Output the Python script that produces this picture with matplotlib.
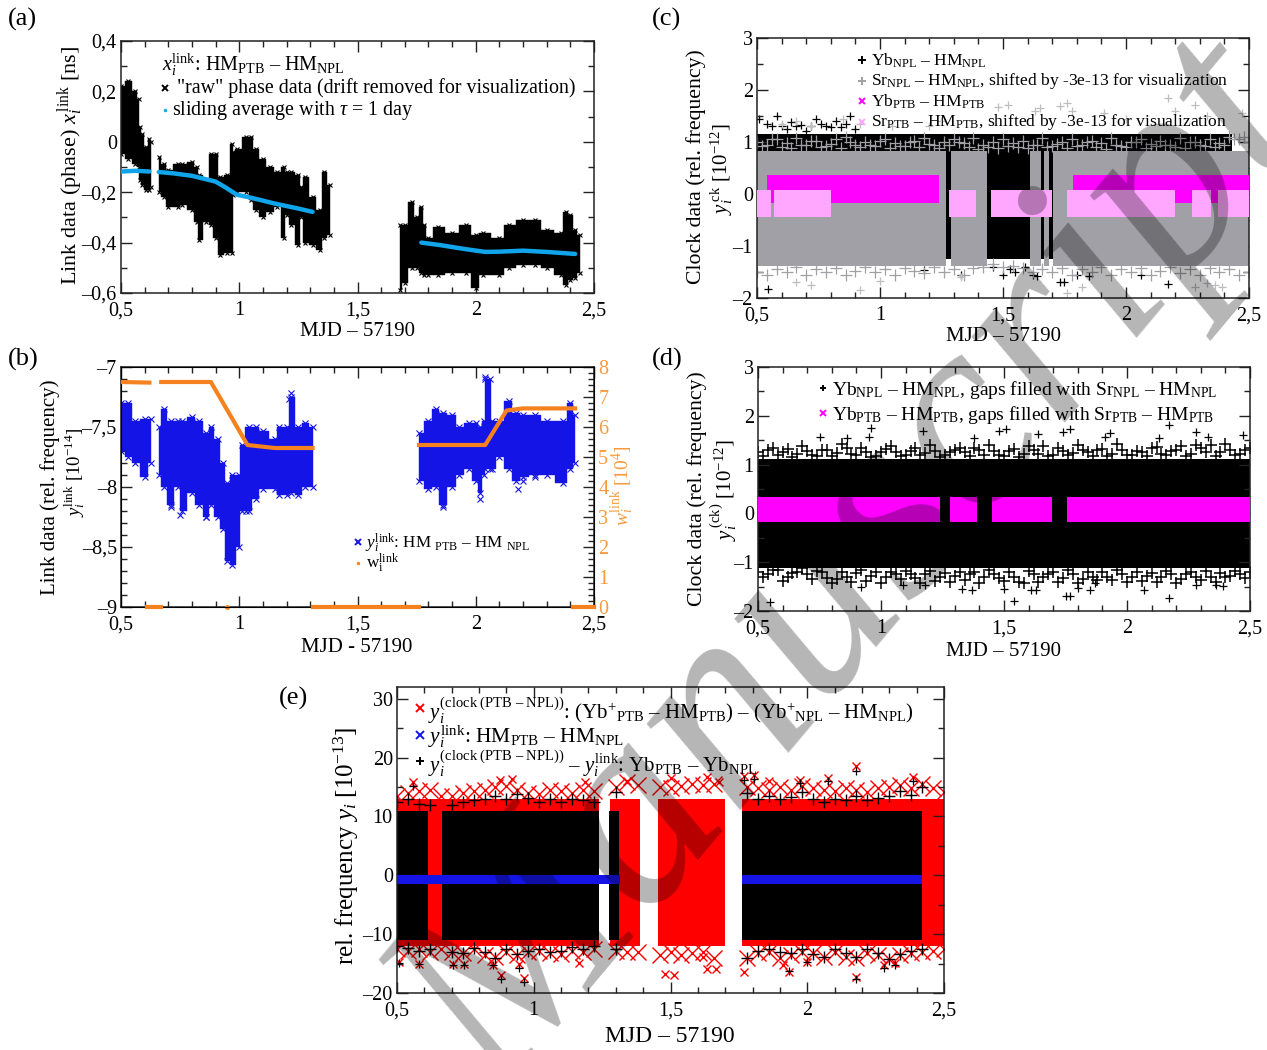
import matplotlib
matplotlib.use("Agg")
import matplotlib.pyplot as plt
import numpy as np
from matplotlib.ticker import MultipleLocator

plt.rcParams.update({"font.family": "Liberation Serif", "mathtext.fontset": "custom",
                     "mathtext.rm": "Liberation Serif", "mathtext.it": "Liberation Serif:italic",
                     "mathtext.bf": "Liberation Serif:bold", "mathtext.fallback": "stix"})
W, H = 1267, 1050
XT = [0.5, 1, 1.5, 2, 2.5]
XL = ["0,5", "1", "1,5", "2", "2,5"]

# ---------- (a) link phase: envelope of the raw data cloud
a1_x = [0.5,0.53,0.56,0.575,0.58,0.59,0.605,0.62,0.625]
a1_lo = [-0.05,-0.07,-0.09,-0.10,-0.15,-0.17,-0.19,-0.19,-0.18]
a1_hi = [0.22,0.24,0.20,0.17,0.06,0.03,-0.02,0.01,0.0]
a2_x = [0.66,0.68,0.70,0.74,0.76,0.80,0.82,0.83,0.86,0.88,0.90,0.92,0.95,0.97,0.975,0.99,1.03,1.05,1.07,1.1,1.13,1.16,1.19,1.2,1.22,1.25,1.26,1.28,1.31,1.34,1.36,1.385]
a2_lo = [-0.2,-0.22,-0.26,-0.26,-0.25,-0.27,-0.32,-0.39,-0.32,-0.33,-0.38,-0.45,-0.44,-0.44,-0.21,-0.2,-0.2,-0.23,-0.27,-0.30,-0.28,-0.26,-0.38,-0.29,-0.33,-0.41,-0.3,-0.4,-0.41,-0.43,-0.38,-0.37]
a2_hi = [-0.06,-0.09,-0.11,-0.09,-0.09,-0.08,-0.1,-0.13,-0.15,-0.05,-0.05,-0.14,-0.13,-0.01,-0.04,-0.03,0.02,0.02,-0.03,-0.07,-0.1,-0.12,-0.1,-0.12,-0.12,-0.13,-0.18,-0.14,-0.22,-0.27,-0.12,-0.17]
a3_x = [1.68,1.70,1.73,1.75,1.77,1.78,1.80,1.84,1.90,1.96,2.0,2.03,2.1,2.14,2.2,2.25,2.3,2.36,2.38,2.4,2.42,2.44]
a3_lo = [-0.59,-0.56,-0.5,-0.5,-0.52,-0.53,-0.53,-0.53,-0.52,-0.52,-0.58,-0.53,-0.53,-0.5,-0.49,-0.49,-0.5,-0.53,-0.57,-0.55,-0.54,-0.52]
a3_hi = [-0.33,-0.33,-0.24,-0.30,-0.26,-0.33,-0.38,-0.34,-0.36,-0.33,-0.37,-0.36,-0.38,-0.33,-0.31,-0.31,-0.35,-0.36,-0.28,-0.29,-0.35,-0.37]
a_avg1_x = [0.5,0.56,0.62]
a_avg1_y = [-0.118,-0.115,-0.118]
a_avg2_x = [0.66,0.72,0.8,0.9,0.94,0.99,1.05,1.15,1.25,1.31]
a_avg2_y = [-0.12,-0.125,-0.135,-0.158,-0.18,-0.21,-0.222,-0.245,-0.265,-0.278]
a_avg3_x = [1.77,1.85,1.95,2.04,2.1,2.2,2.3,2.42]
a_avg3_y = [-0.40,-0.41,-0.425,-0.437,-0.436,-0.432,-0.437,-0.445]

# ---------- (b) link frequency
b1_x = [0.5,0.53,0.56,0.6,0.625]
b1_lo = [-7.7,-7.75,-7.8,-7.92,-7.8]
b1_hi = [-7.3,-7.3,-7.45,-7.43,-7.43]
b2_x = [0.66,0.68,0.71,0.74,0.76,0.8,0.83,0.86,0.88,0.91,0.93,0.95,0.97,1.0,1.01,1.04,1.07,1.1,1.15,1.17,1.2,1.22,1.25,1.28,1.31]
b2_lo = [-7.9,-8.0,-8.15,-8.0,-8.2,-8.05,-8.15,-8.25,-8.15,-8.25,-8.35,-8.62,-8.65,-8.5,-8.2,-8.2,-8.1,-8.02,-8.02,-8.07,-8.07,-8.05,-8.07,-8.0,-8.0]
b2_hi = [-7.5,-7.35,-7.45,-7.45,-7.45,-7.42,-7.45,-7.55,-7.5,-7.6,-7.8,-7.97,-7.9,-7.9,-7.65,-7.5,-7.5,-7.53,-7.6,-7.5,-7.5,-7.25,-7.5,-7.47,-7.5]
b3_x = [1.76,1.8,1.83,1.86,1.9,1.93,1.97,2.0,2.02,2.035,2.04,2.06,2.07,2.1,2.14,2.17,2.2,2.25,2.3,2.37,2.4,2.42]
b3_lo = [-7.95,-8.02,-8.0,-8.15,-8.0,-7.9,-7.85,-7.95,-8.05,-7.9,-7.85,-7.85,-7.85,-7.75,-7.85,-7.95,-7.92,-7.9,-7.9,-7.97,-7.85,-7.8]
b3_hi = [-7.55,-7.45,-7.35,-7.38,-7.4,-7.5,-7.47,-7.47,-7.5,-7.45,-7.1,-7.1,-7.45,-7.45,-7.28,-7.38,-7.4,-7.4,-7.45,-7.45,-7.3,-7.4]
b_out_x = [1.21,1.22,2.04,2.18,2.02,1.86,2.25,2.2,0.75,0.71,0.86,1.03]
b_out_y = [-7.27,-7.22,-7.08,-8.02,-8.1,-8.17,-7.92,-7.95,-8.23,-8.17,-8.25,-8.2]
w1_x = [0.5,0.62]; w1_y = [7.5,7.48]
w2_x = [0.67,0.88,1.035,1.15,1.31]; w2_y = [7.5,7.5,5.4,5.3,5.3]
w3_x = [1.76,2.04,2.13,2.2,2.42]; w3_y = [5.4,5.4,6.55,6.62,6.62]
w_zero_segments = [(0.61,0.67),(1.31,1.76),(2.41,2.5)]
w_zero_point = [0.95]

# ---------- edge read-offs for dense clouds (c, d, e)
EDGE_X = [0.50,0.54,0.58,0.62,0.66,0.70,0.74,0.78,0.82,0.86,0.90,0.94,0.98,1.02,1.06,1.10,1.14,1.18,1.22,1.26,1.30,1.34,1.38,1.42,1.46,1.50,1.54,1.58,1.62,1.66,1.70,1.74,1.78,1.82,1.86,1.90,1.94,1.98,2.02,2.06,2.10,2.14,2.18,2.22,2.26,2.30,2.34,2.38,2.42,2.46,2.50]
EDGE_X2 = [0.52,0.56,0.60,0.64,0.68,0.72,0.76,0.80,0.84,0.88,0.92,0.96,1.00,1.04,1.08,1.12,1.16,1.20,1.24,1.28,1.32,1.36,1.40,1.44,1.48,1.52,1.56,1.60,1.64,1.68,1.72,1.76,1.80,1.84,1.88,1.92,1.96,2.00,2.04,2.08,2.12,2.16,2.20,2.24,2.28,2.32,2.36,2.40,2.44,2.48]
c_gray_hi = [1.0,0.95,1.05,0.98,1.08,0.95,1.02,0.93,1.05,1.1,0.95,1.0,0.92,1.05,0.98,0.93,1.02,1.08,0.95,1.0,1.05,0.98,1.08,0.95,1.0,1.06,0.98,1.02,0.95,1.08,0.93,1.0,1.05,0.95,1.02,0.98,1.08,0.93,1.0,1.05,0.96,1.02,0.95,1.08,1.0,0.95,1.05,0.98,1.1,1.05,1.0]
c_gray_hi2 = [0.92,1.05,0.9,0.88,0.95,1.02,0.9,0.96,0.88,1.0,0.9,0.95,1.02,0.88,0.92,1.0,0.9,0.96,0.88,0.95,1.0,0.9,0.86,0.9,0.88,0.92,0.9,0.88,0.95,0.9,0.96,0.88,0.92,1.0,0.9,0.86,0.95,0.9,1.0,0.88,0.92,0.95,0.9,0.88,1.0,0.92,0.9,0.95,1.05,1.1]
c_gray_lo = [-1.5,-1.55,-1.45,-1.5,-1.4,-1.55,-1.45,-1.5,-1.42,-1.55,-1.48,-1.4,-1.5,-1.45,-1.55,-1.42,-1.48,-1.52,-1.4,-1.5,-1.45,-1.55,-1.42,-1.4,-1.35,-1.4,-1.38,-1.42,-1.5,-1.45,-1.5,-1.42,-1.55,-1.45,-1.5,-1.4,-1.55,-1.45,-1.5,-1.42,-1.55,-1.48,-1.4,-1.52,-1.45,-1.55,-1.42,-1.5,-1.45,-1.55,-1.5]
d_hi = [1.25,1.3,1.2,1.32,1.22,1.28,1.18,1.3,1.24,1.34,1.2,1.26,1.18,1.32,1.25,1.2,1.34,1.24,1.28,1.2,1.3,1.25,1.33,1.2,1.27,1.18,1.32,1.22,1.3,1.38,1.2,1.28,1.24,1.3,1.18,1.32,1.22,1.3,1.2,1.26,1.33,1.22,1.28,1.38,1.22,1.34,1.4,1.25,1.3,1.22,1.35]
d_hi2 = [1.18,1.35,1.25,1.15,1.38,1.2,1.3,1.17,1.42,1.22,1.35,1.15,1.25,1.38,1.18,1.28,1.2,1.4,1.16,1.25,1.35,1.18,1.3,1.4,1.2,1.28,1.16,1.38,1.22,1.17,1.35,1.2,1.4,1.25,1.3,1.18,1.42,1.2,1.27,1.18,1.36,1.2,1.3,1.18,1.4,1.26,1.17,1.42,1.2,1.3]
d_lo = [-1.2,-1.25,-1.15,-1.3,-1.2,-1.25,-1.18,-1.32,-1.35,-1.3,-1.22,-1.38,-1.2,-1.3,-1.25,-1.18,-1.32,-1.25,-1.38,-1.22,-1.28,-1.36,-1.2,-1.3,-1.25,-1.38,-1.3,-1.42,-1.25,-1.3,-1.2,-1.32,-1.24,-1.35,-1.3,-1.2,-1.36,-1.25,-1.3,-1.38,-1.22,-1.3,-1.25,-1.34,-1.2,-1.36,-1.3,-1.22,-1.28,-1.25,-1.2]
d_lo2 = [-1.3,-1.15,-1.38,-1.22,-1.12,-1.34,-1.2,-1.42,-1.2,-1.4,-1.15,-1.28,-1.42,-1.2,-1.35,-1.24,-1.42,-1.18,-1.3,-1.4,-1.2,-1.25,-1.42,-1.16,-1.32,-1.2,-1.4,-1.18,-1.4,-1.25,-1.4,-1.16,-1.42,-1.2,-1.36,-1.3,-1.16,-1.4,-1.2,-1.28,-1.4,-1.18,-1.42,-1.24,-1.3,-1.18,-1.4,-1.3,-1.18,-1.32]
e_red_hi = [13.5,14,14.3,14.5,13.5,13.5,14,14.3,14.5,15,15.2,14.5,14,13.8,14.5,14.3,14,14.5,14.3,np.nan,15,15.8,15.3,np.nan,15,14.8,15.2,15.5,15.3,15.6,np.nan,np.nan,15,14.8,14.5,15,14.5,15.2,14.8,14.5,14.3,14.8,14.5,14.2,14.8,15,15.3,14.8,15.5,14.8,14.2]
e_red_lo = [-12.5,-12.8,-12.5,-13,-12.5,-13,-13.2,-12.5,-13.5,-13.8,-13,-13.5,-13,-12.8,-13.2,-13.4,-12.8,-13,-12.6,np.nan,-12.8,-13,-13,np.nan,-13.5,-13,-13.5,-13.2,-13,-14,np.nan,np.nan,-14,-13.2,-13,-14,-13.5,-13,-13.2,-13.8,-13,-13.8,-14,-13.2,-13.5,-14.3,-13.6,-13.2,-13,-12.8,-12.5]
e_blk_hi = [12.5,13,12.2,12,np.nan,12,12.5,12.8,13,13.5,13,13.8,13.2,12.5,13,12.5,13,12.8,12.5,np.nan,14.2,np.nan,np.nan,np.nan,np.nan,np.nan,np.nan,np.nan,np.nan,np.nan,np.nan,np.nan,14,13,13.5,13,13.3,14.2,13,12.5,13,12.8,13.5,12.8,13.2,13.5,14.3,13.6,15,np.nan,np.nan]
e_blk_lo = [-12,-12.3,-12.8,-12.5,np.nan,-13,-13.2,-12.3,-13,-14,-12.5,-13.3,-12.8,-12.5,-13,-12.8,-12.2,-12.6,-12,np.nan,-12.5,np.nan,np.nan,np.nan,np.nan,np.nan,np.nan,np.nan,np.nan,np.nan,np.nan,np.nan,-14,-12.8,-12.5,-13,-13.2,-12.5,-13.3,-13.8,-12.5,-13.2,-13.8,-12.6,-13.2,-14.2,-13.3,-12.8,-12.5,np.nan,np.nan]

# ---------- (c) scattered points
c_blk_out_x = [0.51,0.54,0.56,0.58,0.6,0.62,0.64,0.66,0.68,0.7,0.72,0.74,0.76,0.78,0.8,0.82,0.84,0.86,0.88,0.9,0.545,1.46,1.5,1.53,1.55,1.59,1.62,1.64,1.73,1.75,1.8,1.85,2.06,2.17,1.33,1.18]
c_blk_out_y = [1.45,1.35,1.3,1.5,1.3,1.25,1.38,1.3,1.32,1.22,1.3,1.45,1.35,1.3,1.28,1.4,1.28,1.35,1.5,1.25,-1.82,-1.4,-1.55,-1.45,-1.5,-1.4,-1.55,-1.57,-1.69,-1.69,-1.55,-1.57,-1.55,-1.73,-1.55,-1.46]
c_gry_out_x = [0.6,0.66,0.72,0.85,0.92,1.05,1.2,1.25,1.48,1.52,1.63,1.65,1.73,1.76,1.78,1.91,2.0,2.17,2.2,2.28,2.33,2.47,0.92,0.66,0.72,1.0,1.33,1.76,1.82,2.28,2.33,2.36,2.39]
c_gry_out_y = [1.35,1.4,1.3,1.45,1.35,1.3,1.3,1.4,1.68,1.72,1.6,1.65,1.7,1.75,1.6,1.55,1.45,1.85,1.6,1.72,1.5,1.55,-1.85,-1.7,-1.75,-1.68,-1.6,-1.9,-1.78,-1.78,-1.72,-1.75,-1.78]

# ---------- (d) scattered points
d_out_x = [0.75,0.86,0.95,0.96,1.17,1.38,1.48,1.51,1.64,1.74,1.77,1.93,1.91,2.13,2.17,2.28,2.33,2.47,0.55,0.92,1.09,1.18,1.33,1.37,1.5,1.54,1.61,1.63,1.75,1.77,1.8,1.85,1.87,2.07,2.17,2.28,2.36,2.39]
d_out_y = [1.56,1.54,1.57,1.74,1.69,1.54,1.69,1.73,1.63,1.66,1.73,1.64,1.56,1.54,1.81,1.66,1.57,1.6,-1.82,-1.5,-1.47,-1.46,-1.55,-1.57,-1.55,-1.8,-1.57,-1.57,-1.69,-1.69,-1.52,-1.57,-1.42,-1.57,-1.73,-1.46,-1.47,-1.49]

# ---------- (e) scattered points
e_out_x = [0.92,0.876,0.557,1.186,1.34,1.5,1.635,1.676,1.77,1.807,1.86,1.975,2.077,2.18,2.387,0.508,0.58,0.704,0.745,0.85,0.88,0.946,0.966,1.165,1.48,1.513,1.62,1.635,1.665,1.77,1.913,1.933,2.0,2.18,2.28,2.32]
e_out_y = [16.4,16.2,15.9,15.9,16,16.6,16.7,15.9,16.8,17,16,16.2,16.6,18.5,16.7,-14.7,-15,-15,-15,-15.3,-17,-15,-17.5,-14.9,-16.8,-17,-13.9,-15.9,-15.9,-16.4,-15.3,-16.4,-14.7,-17.2,-15.3,-14.9]
e_blk_out_x = [0.508,0.58,0.704,0.745,0.85,0.88,0.946,0.966,1.933,2.0,2.18,2.28,2.32,0.557,1.77,1.807,2.18,2.387,1.975,2.077]
e_blk_out_y = [-14.9,-15.1,-15.3,-15.3,-15.2,-17.7,-15.7,-18.2,-16.3,-14.7,-17.7,-15.8,-15.2,15.2,16.2,16.4,17.8,16.1,15.7,16]

# ---------- segment limits of the solid parts of the clouds
c_black_seg = [(0.5,2.43)]
c_gray_seg = [(0.5,1.268),(1.287,1.435),(1.61,1.655),(1.668,1.688),(1.702,2.5)]
c_mag_seg = [(0.542,1.24),(1.786,2.5)]
c_pink_seg = [(0.5,0.558),(0.57,0.80),(1.28,1.39),(1.453,1.70),(1.76,2.2),(2.27,2.345),(2.375,2.5)]
d_mag_seg = [(0.5,1.24),(1.28,1.39),(1.453,1.697),(1.755,2.5)]
e_red_seg = [(0.5,1.24),(1.28,1.39),(1.455,1.70),(1.76,2.5)]
e_blk_seg = [(0.5,0.615),(0.665,1.24),(1.275,1.31),(1.76,2.42)]
e_blue_seg = [(0.5,1.317),(1.76,2.42)]

BLUE = "#1414e6"; ORANGE = "#f5821e"; ORANGE2 = "#f79a3e"; SKY = "#10a5ea"
GRAY = "#a0a0a6"; MAG = "#ff00ff"; PINK = "#ffa6ff"; RED = "#ff0000"

fig = plt.figure(figsize=(W/100, H/100), dpi=100)

def make_ax(l, r, t, b, xmaj_minor, ylim, yt, yl, yminor, right=True):
    ax = fig.add_axes([l/W, 1-b/H, (r-l)/W, (b-t)/H])
    ax.set_xlim(0.5, 2.5); ax.set_ylim(*ylim)
    ax.set_xticks(XT); ax.set_xticklabels(XL, fontsize=14.5)
    ax.set_yticks(yt); ax.set_yticklabels(yl, fontsize=14.5)
    ax.xaxis.set_minor_locator(MultipleLocator(xmaj_minor))
    ax.yaxis.set_minor_locator(MultipleLocator(yminor))
    ax.tick_params(which="major", direction="in", top=True, right=right, length=8, width=1, color="#222222", pad=3)
    ax.tick_params(which="minor", direction="in", top=True, right=right, length=4, width=1, color="#222222")
    ax.tick_params(axis="x", which="major", pad=6)
    for s in ax.spines.values():
        s.set_linewidth(1.1); s.set_color("#222222")
    return ax

def T(px, py, s, size=14.5, **kw):
    kw.setdefault("va", "center"); kw.setdefault("ha", "left")
    return fig.text(px/W, 1-py/H, s, fontsize=size, **kw)

def M(px, py, marker, color, ms=5, mew=1.4):
    fig.add_artist(plt.Line2D([px/W], [1-py/H], marker=marker, color=color, ms=ms, mew=mew,
                              ls="none", transform=fig.transFigure, zorder=20))

def band(ax, segs, lo, hi, color, z):
    for a, b in segs:
        ax.fill_between([a, b], [lo, lo], [hi, hi], color=color, lw=0, zorder=z)

def edge(ax, xs, ys, marker, color, z, ms=6, mew=0.9):
    ax.plot(xs, ys, ls="none", marker=marker, color=color, ms=ms, mew=mew, zorder=z)

# ---- (a)
ax = make_ax(121, 594, 41, 293, 0.1, (-0.6, 0.4), [-0.6,-0.4,-0.2,0,0.2,0.4],
             ["–0,6","–0,4","–0,2","0","0,2","0,4"], 0.1)
for x, lo, hi in [(a1_x,a1_lo,a1_hi),(a2_x,a2_lo,a2_hi),(a3_x,a3_lo,a3_hi)]:
    ax.fill_between(x, lo, hi, color="k", lw=0.3, zorder=2, step="mid")
    ax.plot(x, lo, ls="none", marker="x", color="k", ms=3, mew=0.8, zorder=2)
    ax.plot(x, hi, ls="none", marker="x", color="k", ms=3, mew=0.8, zorder=2)
for x, y in [(a_avg1_x,a_avg1_y),(a_avg2_x,a_avg2_y),(a_avg3_x,a_avg3_y)]:
    ax.plot(x, y, color=SKY, lw=3.2, zorder=3, solid_capstyle="round")
T(162, 65, r"$x_i^{\mathrm{link}}$: HM$_{\mathrm{PTB}}$ – HM$_{\mathrm{NPL}}$", 14.5)
M(165, 88, "x", "k", 4); T(177, 88, '"raw" phase data (drift removed for visualization)', 14.4)
M(165, 110, "o", SKY, 2, 0.5); T(172, 111, r"sliding average with $\tau$ = 1 day", 14.4)
T(71, 165, r"Link data (phase) $x_i^{\,\mathrm{link}}$ [ns]", 16, rotation=90, ha="center")
T(357, 332, "MJD – 57190", 15, ha="center")
T(8, 19, "(a)", 19)

# ---- (b)
ax = make_ax(121, 594, 367, 607, 0.1, (-9, -7), [-9,-8.5,-8,-7.5,-7],
             ["–9","–8,5","–8","–7,5","–7"], 0.1, right=False)
for x, lo, hi in [(b1_x,b1_lo,b1_hi),(b2_x,b2_lo,b2_hi),(b3_x,b3_lo,b3_hi)]:
    ax.fill_between(x, lo, hi, color=BLUE, lw=0.3, zorder=2, step="mid")
    ax.plot(x, lo, ls="none", marker="x", color=BLUE, ms=5, mew=0.8, zorder=2)
    ax.plot(x, hi, ls="none", marker="x", color=BLUE, ms=5, mew=0.8, zorder=2)
ax.plot(b_out_x, b_out_y, ls="none", marker="x", color=BLUE, ms=5, mew=0.8, zorder=2)
ax2 = ax.twinx(); ax2.set_ylim(0, 8); ax2.set_yticks(range(9))
ax2.set_yticklabels([str(i) for i in range(9)], fontsize=14.5, color=ORANGE2)
ax2.yaxis.set_minor_locator(MultipleLocator(0.2))
ax2.tick_params(which="major", direction="in", length=8, width=1, color="#222222", pad=3)
ax2.tick_params(which="minor", direction="in", length=4, width=1, color="#222222")
for x, y in [(w1_x,w1_y),(w2_x,w2_y),(w3_x,w3_y)]:
    ax2.plot(x, y, color=ORANGE, lw=3, zorder=5)
for a, b in w_zero_segments:
    ax2.plot([a, b], [0, 0], color=ORANGE, lw=3, clip_on=False, zorder=5)
ax2.plot(w_zero_point, [0], "o", color=ORANGE, ms=2.5, clip_on=False)
M(358, 542, "x", BLUE, 5)
T(365, 543, r"$y_i^{\mathrm{link}}$: HM $_{\mathrm{PTB}}$ – HM $_{\mathrm{NPL}}$", 12.3)
M(358, 563, "o", ORANGE, 2, 0.5); T(366, 563, r"w$_{\mathrm{i}}^{\mathrm{link}}$", 12.3)
T(50, 487, "Link data (rel. frequency)", 15, rotation=90, ha="center")
T(75, 472, r"$y_i^{\mathrm{link}}$ [10$^{-14}$]", 13.5, rotation=90, ha="center")
T(623, 486, r"$w_i^{\mathrm{link}}$ [10$^{4}$]", 14, rotation=90, ha="center", color=ORANGE2)
T(357, 647, "MJD - 57190", 15, ha="center")
T(8, 359, "(b)", 19)

# ---- (c)
ax = make_ax(757, 1249, 38, 298, 0.1, (-2, 3), [-2,-1,0,1,2,3], ["–2","–1","0","1","2","3"], 0.5)
band(ax, c_black_seg, -1.25, 1.15, "k", 1)
ax.plot(c_blk_out_x, c_blk_out_y, ls="none", marker="+", color="k", ms=6, mew=0.9, zorder=1)
band(ax, c_gray_seg, -1.38, 0.82, GRAY, 2)
edge(ax, EDGE_X, c_gray_hi, "+", GRAY, 2, ms=8)
edge(ax, EDGE_X2, c_gray_hi2, "+", GRAY, 2, ms=8)
edge(ax, EDGE_X, c_gray_lo, "+", GRAY, 2, ms=8)
ax.plot(c_gry_out_x, c_gry_out_y, ls="none", marker="+", color="#bdbdc2", ms=6, mew=0.9, zorder=2)
band(ax, c_mag_seg, -0.18, 0.36, MAG, 3)
band(ax, c_pink_seg, -0.45, 0.07, PINK, 4)
M(862, 60, "+", "k", 6); T(871, 61, r"Yb$_{\mathrm{NPL}}$ – HM$_{\mathrm{NPL}}$", 12.6)
M(862, 81, "+", GRAY, 6); T(871, 81, r"Sr$_{\mathrm{NPL}}$ – HM$_{\mathrm{NPL}}$, shifted by -3e-13 for visualization", 12.6)
M(862, 101, "x", MAG, 5); T(871, 102, r"Yb$_{\mathrm{PTB}}$ – HM$_{\mathrm{PTB}}$", 12.6)
M(862, 122, "x", PINK, 5); T(871, 122, r"Sr$_{\mathrm{PTB}}$ – HM$_{\mathrm{PTB}}$, shifted by -3e-13 for visualization", 12.6)
T(696, 167, "Clock data (rel. frequency)", 15.7, rotation=90, ha="center")
T(722, 169, r"$y_i^{\,\mathrm{ck}}$ [10$^{-12}$]", 15, rotation=90, ha="center")
T(1003, 337, "MJD – 57190", 15, ha="center")
T(652, 19, "(c)", 19)

# ---- (d)
ax = make_ax(758, 1250, 367, 611, 0.1, (-2, 3), [-2,-1,0,1,2,3], ["–2","–1","0","1","2","3"], 0.5)
band(ax, [(0.5,2.5)], -1.12, 1.12, "k", 1)
edge(ax, EDGE_X, d_hi, "+", "k", 1, ms=8, mew=1.1)
edge(ax, EDGE_X2, d_hi2, "+", "k", 1, ms=8, mew=1.1)
edge(ax, EDGE_X, d_lo, "+", "k", 1, ms=8, mew=1.1)
edge(ax, EDGE_X2, d_lo2, "+", "k", 1, ms=8, mew=1.1)
ax.plot(d_out_x, d_out_y, ls="none", marker="+", color="k", ms=6, mew=0.9, zorder=1)
band(ax, d_mag_seg, -0.17, 0.33, MAG, 3)
M(823, 388, "+", "k", 5)
T(832, 390, r"Yb$_{\mathrm{NPL}}$ – HM$_{\mathrm{NPL}}$, gaps filled with Sr$_{\mathrm{NPL}}$ – HM$_{\mathrm{NPL}}$", 14)
M(823, 413, "x", MAG, 5)
T(832, 415, r"Yb$_{\mathrm{PTB}}$ – HM$_{\mathrm{PTB}}$, gaps filled with Sr$_{\mathrm{PTB}}$ – HM$_{\mathrm{PTB}}$", 14)
T(697, 489, "Clock data (rel. frequency)", 15.7, rotation=90, ha="center")
T(724, 490, r"$y_i^{\,\mathrm{(ck)}}$ [10$^{-12}$]", 15, rotation=90, ha="center")
T(1004, 651, "MJD – 57190", 15, ha="center")
T(652, 359, "(d)", 19)

# ---- (e)
ax = make_ax(397, 944, 687, 993, 0.1, (-20, 32), [-20,-10,0,10,20,30], ["–20","–10","0","10","20","30"], 5)
band(ax, e_red_seg, -12, 13, RED, 1)
edge(ax, EDGE_X, e_red_hi, "x", RED, 1, ms=11, mew=1)
edge(ax, EDGE_X, e_red_lo, "x", RED, 1, ms=11, mew=1)
ax.plot(e_out_x, e_out_y, ls="none", marker="x", color=RED, ms=6, mew=1, zorder=1)
band(ax, e_blk_seg, -11, 11, "k", 2)
edge(ax, EDGE_X, e_blk_hi, "+", "k", 2, ms=9, mew=1)
edge(ax, EDGE_X, e_blk_lo, "+", "k", 2, ms=9, mew=1)
ax.plot(e_blk_out_x, e_blk_out_y, ls="none", marker="+", color="k", ms=6, mew=0.9, zorder=2)
band(ax, e_blue_seg, -1.4, 0.1, BLUE, 3)
M(420, 708, "x", RED, 6)
T(428, 711, r"$y_i^{\mathrm{(clock\ (PTB\ –\ NPL))}}$: (Yb$^{+}$$_{\mathrm{PTB}}$ – HM$_{\mathrm{PTB}}$) – (Yb$^{+}$$_{\mathrm{NPL}}$ – HM$_{\mathrm{NPL}}$)", 15)
M(420, 735, "x", BLUE, 6)
T(428, 737, r"$y_i^{\mathrm{link}}$: HM$_{\mathrm{PTB}}$ – HM$_{\mathrm{NPL}}$", 15.5)
M(420, 761, "+", "k", 6)
T(428, 764, r"$y_i^{\mathrm{(clock\ (PTB\ –\ NPL))}}$ – $y_i^{\mathrm{link}}$: Yb$_{\mathrm{PTB}}$ – Yb$_{\mathrm{NPL}}$", 15)
T(346, 846, r"rel. frequency $y_i$ [10$^{-13}$]", 18, rotation=90, ha="center")
T(670, 1036, "MJD – 57190", 17, ha="center")
T(279, 698, "(e)", 19)

# ---- diagonal watermark printed over the figure
fig.text(500/W, 1-1100/H, "Manuscript", fontsize=198, rotation=50, rotation_mode="anchor",
         ha="left", va="baseline", style="italic", color="k", alpha=0.29, zorder=50)

fig.savefig("out.png", dpi=100)
